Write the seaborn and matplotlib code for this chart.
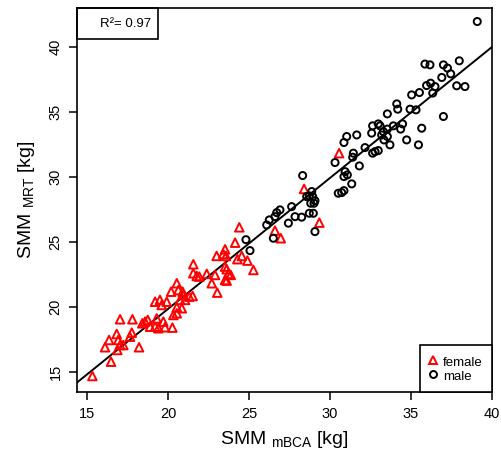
import numpy as np
import pandas as pd
import matplotlib
matplotlib.use("Agg")
import matplotlib.pyplot as plt
from matplotlib.lines import Line2D
from matplotlib.patches import Rectangle
import seaborn as sns

# ---------------- data ----------------
female_mbca = [15.33, 16.48, 16.11, 16.36, 16.83, 16.93, 16.87, 17.04, 17.24, 17.04,
               17.80, 17.76, 17.65, 18.21, 18.41, 18.58, 18.75, 18.89, 19.20, 19.40,
               19.30, 19.71, 19.81, 20.27, 20.19, 19.20, 19.50, 19.92, 19.61, 20.33,
               20.54, 20.85, 20.74, 20.94, 20.54, 20.64, 20.90, 21.05, 21.31, 21.52,
               20.54, 21.56, 21.56, 21.77, 21.93, 22.39, 22.90, 22.70, 23.04, 23.52,
               23.62, 23.72, 23.87, 23.52, 23.62, 23.00, 23.41, 23.58, 23.52, 24.14,
               24.40, 24.28, 24.55, 24.90, 25.27, 26.60, 26.96, 28.40, 29.34, 30.56]
female_mrt = [14.67, 15.77, 16.88, 17.44, 17.90, 17.44, 16.67, 17.05, 17.05, 19.03,
              19.03, 18.00, 17.69, 16.88, 18.72, 18.85, 18.98, 18.46, 18.46, 18.34,
              19.10, 18.85, 18.42, 18.39, 21.15, 20.38, 20.52, 20.38, 20.13, 19.36,
              19.49, 19.88, 20.52, 20.90, 21.80, 21.28, 21.15, 20.52, 20.77, 20.82,
              19.95, 23.26, 22.57, 22.36, 22.31, 22.52, 22.44, 21.80, 21.08, 23.08,
              22.88, 22.52, 22.44, 22.05, 22.00, 23.90, 24.05, 23.90, 24.41, 24.92,
              26.10, 23.65, 23.90, 23.54, 22.82, 25.85, 25.26, 29.05, 26.46, 31.80]

male_mbca = [24.81, 25.06, 26.09, 26.25, 26.60, 26.71, 26.91, 26.50, 27.43, 27.63,
             27.84, 28.25, 28.72, 28.97, 29.07, 28.31, 28.56, 28.72, 28.87, 28.93,
             29.07, 28.81, 29.01, 30.51, 30.72, 30.86, 31.34, 30.86, 30.93, 31.07,
             31.81, 30.31, 31.44, 31.40, 30.86, 31.03, 31.65, 32.16, 32.57, 32.63,
             32.78, 32.98, 32.63, 32.98, 33.09, 33.29, 33.54, 33.19, 33.54, 33.33,
             33.70, 33.91, 33.54, 34.12, 34.18, 34.36, 34.48, 34.73, 34.94, 35.31,
             35.66, 35.46, 35.04, 35.52, 35.96, 36.21, 36.48, 36.34, 36.90, 37.00,
             35.86, 36.17, 37.00, 37.25, 37.45, 37.98, 37.82, 38.33, 39.09]
male_mrt = [25.15, 24.31, 26.28, 26.67, 26.92, 27.23, 27.44, 25.26, 26.42, 27.69,
            26.92, 26.88, 27.18, 27.18, 25.77, 30.08, 28.46, 28.52, 28.85, 28.46,
            28.15, 27.95, 27.95, 28.72, 28.77, 28.92, 29.44, 30.00, 30.38, 30.13,
            30.82, 31.08, 31.80, 31.49, 32.62, 33.08, 33.20, 32.23, 33.34, 31.80,
            31.92, 32.00, 33.90, 34.05, 33.90, 33.46, 33.65, 33.20, 33.08, 32.82,
            32.44, 33.90, 34.82, 35.59, 35.18, 33.65, 34.05, 32.82, 35.18, 35.13,
            33.72, 32.44, 36.28, 36.46, 37.00, 37.18, 36.92, 36.42, 37.62, 34.62,
            38.65, 38.59, 38.59, 38.34, 37.90, 38.90, 36.98, 36.92, 41.92]

groups = ["female", "male"]
r2_label = "R²= 0.97"
x_ticks = [15, 20, 25, 30, 35, 40]
y_ticks = [15, 20, 25, 30, 35, 40]

df = pd.DataFrame({
    "mbca": female_mbca + male_mbca,
    "mrt": female_mrt + male_mrt,
    "sex": ["female"] * len(female_mbca) + ["male"] * len(male_mbca),
})

# ---------------- style ----------------
sns.set_theme(style="ticks")
plt.rcParams["font.family"] = ["Liberation Sans", "DejaVu Sans"]
plt.rcParams["mathtext.fontset"] = "custom"
plt.rcParams["mathtext.rm"] = "Liberation Sans"
plt.rcParams["mathtext.it"] = "Liberation Sans:italic"
plt.rcParams["text.color"] = "black"
plt.rcParams["axes.labelcolor"] = "black"
plt.rcParams["xtick.color"] = "black"
plt.rcParams["ytick.color"] = "black"

fig = plt.figure(figsize=(5.01, 4.57), dpi=100)
ax = fig.add_axes([77 / 501, 65 / 457, 415 / 501, 384 / 457])

colors = {"female": "red", "male": "black"}
markers = {"female": "^", "male": "o"}
sizes = {"female": 38, "male": 26}
for g in groups:
    sub = df[df["sex"] == g]
    sns.scatterplot(x=sub["mbca"].values, y=sub["mrt"].values, ax=ax,
                    marker=markers[g], s=sizes[g], facecolors="none",
                    edgecolor=colors[g], linewidth=1.4, zorder=3)

# regression line over all data
slope, intercept = np.polyfit(df["mbca"], df["mrt"], 1)
ax.axline((0, intercept), slope=slope, color="black", lw=1.4, zorder=2)

ax.set_xlim(14.38, 40.0)
ax.set_ylim(13.44, 42.96)
ax.set_xticks(x_ticks)
ax.set_yticks(y_ticks)
ax.set_xticklabels([str(t) for t in x_ticks], fontsize=10.5, color="black")
ax.set_yticklabels([str(t) for t in y_ticks], fontsize=10.5, rotation=90, va="center",
                   color="black")
ax.tick_params(direction="out", length=5.5, width=1.1, colors="black", pad=5)
for s in ax.spines.values():
    s.set_visible(True)
    s.set_linewidth(1.2)
    s.set_color("black")

ax.set_xlabel(r"SMM $_{\mathrm{mBCA}}$ [kg]", fontsize=14, labelpad=6, color="black")
ax.set_ylabel(r"SMM $_{\mathrm{MRT}}$ [kg]", fontsize=14, labelpad=8, color="black")

# R^2 box (top-left)
ax.add_patch(Rectangle((0, 1 - 31 / 384), 81 / 415, 31 / 384, transform=ax.transAxes,
                       fill=False, edgecolor="black", lw=1.2, zorder=5, clip_on=False))
ax.text(0.178, 0.958, r2_label, transform=ax.transAxes, ha="right", va="center",
        fontsize=9.5, color="black", zorder=6)

# legend (bottom-right)
handles = [Line2D([], [], marker=markers[g], ls="none", mfc="none", mec=colors[g],
                  mew=1.4, ms=6 if g == "female" else 5) for g in groups]
leg = ax.legend(handles, groups, loc="lower right", borderaxespad=0, fontsize=9.5,
                frameon=True, fancybox=False, edgecolor="black", handlelength=0.6,
                handleheight=1.2, handletextpad=0.45, borderpad=0.7, labelspacing=0.0)
leg.get_frame().set_linewidth(1.2)
leg.get_frame().set_alpha(1)
for t in leg.get_texts():
    t.set_color("black")

fig.savefig("out.png", dpi=100)
